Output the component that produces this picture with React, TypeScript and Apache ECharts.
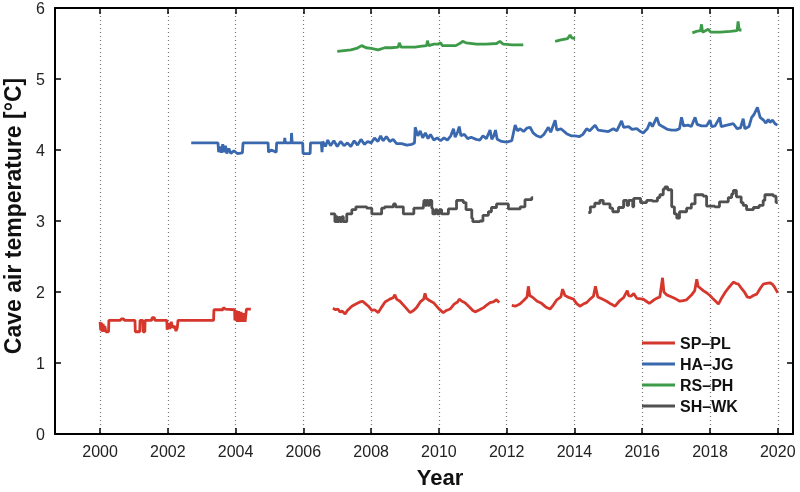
import React, { useEffect, useRef } from "react";
import * as echarts from "echarts";

// ---------- data ----------
const xTicks = [2000, 2002, 2004, 2006, 2008, 2010, 2012, 2014, 2016, 2018, 2020];
const seriesNames = ["SP–PL", "HA–JG", "RS–PH", "SH–WK"];

const spplA: number[][] = [
  [2000.0, 1.58], [2000.02, 1.46], [2000.04, 1.57], [2000.06, 1.44], [2000.09, 1.55], [2000.11, 1.44],
  [2000.14, 1.52], [2000.17, 1.44], [2000.22, 1.44], [2000.25, 1.44], [2000.26, 1.6],
  [2000.6, 1.6], [2000.62, 1.62], [2000.7, 1.62], [2000.72, 1.6],
  [2001.03, 1.6], [2001.04, 1.44], [2001.17, 1.44], [2001.18, 1.6], [2001.26, 1.6], [2001.27, 1.44],
  [2001.32, 1.44], [2001.33, 1.6],
  [2001.52, 1.6], [2001.54, 1.64], [2001.6, 1.64], [2001.62, 1.6],
  [2001.97, 1.6], [2001.98, 1.47], [2002.02, 1.56], [2002.06, 1.48], [2002.1, 1.58], [2002.14, 1.5],
  [2002.2, 1.52], [2002.24, 1.45], [2002.28, 1.5], [2002.3, 1.6],
  [2003.35, 1.6], [2003.36, 1.75], [2003.62, 1.75], [2003.64, 1.78], [2003.7, 1.76], [2003.97, 1.75],
  [2003.98, 1.6], [2004.02, 1.74], [2004.05, 1.58], [2004.09, 1.73], [2004.12, 1.58], [2004.16, 1.72],
  [2004.2, 1.58], [2004.24, 1.7], [2004.28, 1.58], [2004.32, 1.76], [2004.45, 1.76],
];
const spplB: number[][] = [
  [2006.87, 1.77], [2006.95, 1.75], [2007.02, 1.76], [2007.08, 1.72], [2007.15, 1.73], [2007.23, 1.69],
  [2007.3, 1.74], [2007.43, 1.8], [2007.55, 1.83], [2007.67, 1.86], [2007.75, 1.87], [2007.82, 1.84],
  [2007.92, 1.8], [2008.02, 1.74], [2008.1, 1.75], [2008.21, 1.71], [2008.3, 1.78], [2008.41, 1.86],
  [2008.55, 1.9], [2008.65, 1.92], [2008.7, 1.96], [2008.75, 1.9], [2008.85, 1.87], [2009.0, 1.79],
  [2009.15, 1.71], [2009.25, 1.74], [2009.34, 1.78], [2009.45, 1.86], [2009.55, 1.9], [2009.59, 1.98],
  [2009.63, 1.91], [2009.72, 1.88], [2009.84, 1.85], [2009.95, 1.79], [2010.05, 1.74], [2010.13, 1.71],
  [2010.22, 1.74], [2010.33, 1.76], [2010.45, 1.83], [2010.55, 1.86], [2010.6, 1.9], [2010.68, 1.87],
  [2010.77, 1.85], [2010.9, 1.79], [2011.0, 1.74], [2011.07, 1.72], [2011.2, 1.75], [2011.32, 1.78],
  [2011.42, 1.82], [2011.51, 1.85], [2011.6, 1.86], [2011.7, 1.89], [2011.78, 1.85],
];
const spplC: number[][] = [
  [2012.15, 1.81], [2012.25, 1.8], [2012.39, 1.83], [2012.5, 1.88], [2012.6, 1.93], [2012.64, 2.08],
  [2012.68, 1.95], [2012.78, 1.92], [2012.9, 1.87], [2013.03, 1.84], [2013.15, 1.79], [2013.28, 1.76],
  [2013.38, 1.82], [2013.48, 1.89], [2013.6, 1.93], [2013.65, 2.04], [2013.72, 1.95], [2013.85, 1.92],
  [2013.97, 1.9], [2014.06, 1.84], [2014.16, 1.8], [2014.26, 1.83], [2014.36, 1.85], [2014.46, 1.9],
  [2014.56, 1.94], [2014.62, 2.08], [2014.69, 1.93], [2014.82, 1.9], [2014.95, 1.87], [2015.08, 1.83],
  [2015.2, 1.8], [2015.34, 1.88], [2015.45, 1.92], [2015.56, 2.02], [2015.6, 1.95], [2015.67, 1.94],
  [2015.75, 1.98], [2015.84, 1.91], [2016.03, 1.9], [2016.12, 1.87], [2016.21, 1.84], [2016.32, 1.88],
  [2016.42, 1.91], [2016.52, 1.93], [2016.6, 2.2], [2016.64, 2.0], [2016.72, 1.96], [2016.87, 1.93],
  [2017.0, 1.9], [2017.11, 1.87], [2017.21, 1.88], [2017.31, 1.89], [2017.46, 1.96], [2017.55, 2.02],
  [2017.61, 2.18], [2017.65, 2.08], [2017.7, 2.06], [2017.8, 2.02], [2017.9, 1.99], [2018.0, 1.95],
  [2018.1, 1.9], [2018.25, 1.83], [2018.35, 1.92], [2018.44, 1.99], [2018.55, 2.06], [2018.69, 2.14],
  [2018.77, 2.12], [2018.84, 2.11], [2018.93, 2.05], [2019.03, 1.99], [2019.1, 1.93], [2019.18, 1.92],
  [2019.28, 1.95], [2019.38, 1.97], [2019.48, 2.05], [2019.57, 2.11], [2019.67, 2.12], [2019.77, 2.13],
  [2019.84, 2.11], [2019.89, 2.08], [2019.95, 2.03], [2020.0, 1.99],
];

const hajg: number[][] = [
  [2002.69, 4.1], [2003.48, 4.1], [2003.5, 3.97], [2003.55, 4.05], [2003.58, 3.96], [2003.62, 4.08],
  [2003.66, 3.97], [2003.7, 4.06], [2003.74, 3.95], [2003.8, 4.02], [2003.86, 3.95], [2003.95, 3.99],
  [2004.05, 3.95], [2004.2, 3.96], [2004.22, 4.1],
  [2004.96, 4.1], [2004.97, 3.97], [2005.05, 4.0], [2005.2, 3.97], [2005.21, 4.1], [2005.44, 4.1],
  [2005.45, 4.17], [2005.47, 4.1], [2005.64, 4.1], [2005.65, 4.24], [2005.67, 4.1],
  [2005.98, 4.1], [2005.99, 3.95], [2006.2, 3.95], [2006.21, 4.1], [2006.53, 4.1], [2006.55, 3.97],
  [2006.57, 4.12], [2006.65, 4.05], [2006.72, 4.14], [2006.8, 4.06], [2006.9, 4.13], [2007.0, 4.05],
  [2007.1, 4.12], [2007.2, 4.06], [2007.3, 4.1], [2007.4, 4.05], [2007.5, 4.13], [2007.6, 4.07],
  [2007.7, 4.15], [2007.8, 4.08], [2007.9, 4.12], [2008.0, 4.1], [2008.1, 4.17], [2008.2, 4.12],
  [2008.28, 4.2], [2008.35, 4.13], [2008.45, 4.19], [2008.55, 4.12], [2008.65, 4.15], [2008.75, 4.09],
  [2008.9, 4.09], [2009.05, 4.07], [2009.2, 4.08], [2009.28, 4.1], [2009.3, 4.32], [2009.38, 4.2],
  [2009.45, 4.27], [2009.52, 4.17], [2009.6, 4.24], [2009.68, 4.16], [2009.75, 4.22], [2009.85, 4.14],
  [2009.95, 4.17], [2010.05, 4.13], [2010.15, 4.17], [2010.25, 4.14], [2010.35, 4.2], [2010.43, 4.3],
  [2010.48, 4.18], [2010.55, 4.25], [2010.6, 4.33], [2010.65, 4.2], [2010.75, 4.22], [2010.85, 4.16],
  [2010.95, 4.18], [2011.1, 4.15], [2011.21, 4.14], [2011.3, 4.2], [2011.4, 4.16], [2011.51, 4.28],
  [2011.56, 4.15], [2011.62, 4.2], [2011.67, 4.28], [2011.72, 4.15], [2011.85, 4.12], [2012.0, 4.11],
  [2012.15, 4.13], [2012.25, 4.35], [2012.32, 4.27], [2012.4, 4.3], [2012.5, 4.26], [2012.6, 4.31],
  [2012.69, 4.32], [2012.78, 4.24], [2012.89, 4.2], [2013.0, 4.18], [2013.1, 4.22], [2013.23, 4.32],
  [2013.3, 4.25], [2013.43, 4.42], [2013.48, 4.28], [2013.6, 4.3], [2013.77, 4.23], [2013.9, 4.2],
  [2014.02, 4.2], [2014.15, 4.19], [2014.25, 4.22], [2014.36, 4.3], [2014.45, 4.27], [2014.55, 4.32],
  [2014.61, 4.35], [2014.7, 4.28], [2014.85, 4.27], [2015.0, 4.26], [2015.15, 4.3], [2015.25, 4.27],
  [2015.39, 4.41], [2015.45, 4.32], [2015.6, 4.33], [2015.7, 4.29], [2015.84, 4.3], [2015.95, 4.26],
  [2016.03, 4.24], [2016.15, 4.3], [2016.23, 4.39], [2016.3, 4.33], [2016.43, 4.46], [2016.5, 4.36],
  [2016.6, 4.33], [2016.75, 4.29], [2016.87, 4.28], [2017.0, 4.28], [2017.1, 4.3], [2017.16, 4.46],
  [2017.22, 4.34], [2017.35, 4.35], [2017.45, 4.33], [2017.56, 4.46], [2017.62, 4.36], [2017.75, 4.34],
  [2017.9, 4.34], [2018.0, 4.42], [2018.05, 4.33], [2018.15, 4.34], [2018.29, 4.46], [2018.33, 4.33],
  [2018.5, 4.35], [2018.69, 4.37], [2018.8, 4.3], [2018.9, 4.31], [2018.98, 4.44], [2019.03, 4.3],
  [2019.15, 4.33], [2019.23, 4.46], [2019.3, 4.5], [2019.4, 4.6], [2019.48, 4.46], [2019.58, 4.42],
  [2019.65, 4.38], [2019.72, 4.43], [2019.77, 4.39], [2019.85, 4.42], [2019.92, 4.37], [2019.99, 4.35],
];

const rsphA: number[][] = [
  [2007.0, 5.39], [2007.2, 5.4], [2007.4, 5.41], [2007.57, 5.43], [2007.72, 5.47], [2007.85, 5.44],
  [2008.0, 5.43], [2008.21, 5.41], [2008.4, 5.44], [2008.6, 5.44], [2008.8, 5.45], [2008.83, 5.51],
  [2008.88, 5.45], [2009.1, 5.45], [2009.3, 5.45], [2009.44, 5.46], [2009.64, 5.47], [2009.66, 5.54],
  [2009.7, 5.47], [2009.85, 5.49], [2009.98, 5.49], [2010.05, 5.51], [2010.1, 5.47], [2010.3, 5.47],
  [2010.5, 5.47], [2010.65, 5.51], [2010.7, 5.53], [2010.8, 5.51], [2011.11, 5.49], [2011.4, 5.49],
  [2011.7, 5.5], [2011.8, 5.53], [2011.9, 5.49], [2012.2, 5.48], [2012.49, 5.48],
];
const rsphB: number[][] = [
  [2013.43, 5.53], [2013.6, 5.55], [2013.8, 5.57], [2013.87, 5.62], [2013.92, 5.58], [2014.02, 5.57],
];
const rsphC: number[][] = [
  [2017.48, 5.65], [2017.6, 5.67], [2017.72, 5.68], [2017.75, 5.77], [2017.78, 5.66], [2017.95, 5.7],
  [2018.02, 5.66], [2018.3, 5.66], [2018.6, 5.67], [2018.8, 5.68], [2018.83, 5.81], [2018.86, 5.69],
  [2018.93, 5.69],
];

const shwkA: number[][] = [
  [2006.79, 3.1], [2006.93, 2.99], [2006.97, 3.06], [2007.0, 2.99], [2007.05, 3.05], [2007.09, 2.99],
  [2007.14, 3.06], [2007.18, 2.99], [2007.28, 3.1], [2007.43, 3.16], [2007.55, 3.2], [2007.87, 3.18],
  [2008.02, 3.1], [2008.31, 3.18], [2008.4, 3.2], [2008.66, 3.24], [2008.72, 3.2], [2008.95, 3.1],
  [2009.26, 3.18], [2009.54, 3.2], [2009.56, 3.29], [2009.6, 3.22], [2009.64, 3.29], [2009.68, 3.22],
  [2009.72, 3.29], [2009.79, 3.18], [2009.82, 3.1], [2009.9, 3.16], [2009.95, 3.1], [2010.02, 3.16],
  [2010.08, 3.1], [2010.28, 3.17], [2010.52, 3.29], [2010.72, 3.26], [2010.8, 3.16], [2010.97, 3.04],
  [2011.0, 2.99], [2011.21, 3.0], [2011.3, 3.08], [2011.46, 3.13], [2011.55, 3.19], [2011.7, 3.24],
  [2012.05, 3.17], [2012.29, 3.17], [2012.4, 3.2], [2012.54, 3.3], [2012.74, 3.33], [2012.78, 3.33],
];
const shwkB: number[][] = [
  [2014.41, 3.12], [2014.47, 3.2], [2014.6, 3.25], [2014.75, 3.29], [2014.85, 3.24], [2015.05, 3.18],
  [2015.13, 3.13], [2015.3, 3.19], [2015.45, 3.29], [2015.55, 3.22], [2015.6, 3.29], [2015.72, 3.2],
  [2015.75, 3.32], [2015.95, 3.26], [2016.13, 3.29], [2016.3, 3.28], [2016.45, 3.33], [2016.52, 3.37],
  [2016.62, 3.45], [2016.67, 3.48], [2016.75, 3.44], [2016.87, 3.2], [2016.95, 3.1], [2017.02, 3.04],
  [2017.1, 3.13], [2017.31, 3.18], [2017.45, 3.24], [2017.56, 3.37], [2017.8, 3.35], [2017.9, 3.21],
  [2018.14, 3.2], [2018.28, 3.27], [2018.54, 3.33], [2018.64, 3.38], [2018.69, 3.43], [2018.78, 3.34],
  [2018.92, 3.26], [2018.98, 3.22], [2019.08, 3.16], [2019.28, 3.19], [2019.45, 3.22], [2019.57, 3.29],
  [2019.62, 3.37], [2019.87, 3.35], [2019.95, 3.26], [2020.0, 3.26],
];

const colors = { sppl: "#d6372c", hajg: "#3a68ae", rsph: "#3d9a48", shwk: "#505050" };

const FONT = '"Liberation Sans", Arial, Helvetica, sans-serif';

function seg(name: string, color: string, data: number[][], step?: string) {
  return {
    type: "line",
    name,
    data,
    step: step || false,
    symbol: "none",
    showSymbol: false,
    lineStyle: { color, width: 2.8 },
    itemStyle: { color },
    emphasis: { disabled: true },
    animation: false,
  };
}

export default function App() {
  const ref = useRef<HTMLDivElement>(null);
  useEffect(() => {
    const chart = echarts.init(ref.current!, null, { renderer: "svg" });
    const xMin = 1998.67;
    const xMax = 2020.45;
    const option: any = {
      animation: false,
      grid: { left: 55, right: 7, top: 5, bottom: 58, containLabel: false },
      xAxis: [
        {
          type: "value",
          min: xMin,
          max: xMax,
          axisLine: { show: true, onZero: false, lineStyle: { color: "#000", width: 2 } },
          axisTick: { show: true, inside: true, length: 6, customValues: xTicks, lineStyle: { color: "#000", width: 1.5 } },
          axisLabel: { show: true, customValues: xTicks, margin: 9, color: "#222", fontSize: 16, fontFamily: FONT, formatter: (v: number) => String(Math.round(v)) },
          splitLine: { show: true, lineStyle: { color: "#777", width: 1.2, type: [1, 3] } },
        },
        {
          type: "value",
          position: "top",
          min: xMin,
          max: xMax,
          axisLine: { show: true, onZero: false, lineStyle: { color: "#000", width: 2 } },
          axisTick: { show: true, inside: true, length: 6, customValues: xTicks, lineStyle: { color: "#000", width: 1.5 } },
          axisLabel: { show: false },
          splitLine: { show: false },
        },
      ],
      yAxis: [
        {
          type: "value",
          min: 0,
          max: 6,
          interval: 1,
          axisLine: { show: true, onZero: false, lineStyle: { color: "#000", width: 2 } },
          axisTick: { show: true, inside: true, length: 6, lineStyle: { color: "#000", width: 1.5 } },
          axisLabel: { show: true, margin: 10, color: "#222", fontSize: 16, fontFamily: FONT },
          splitLine: { show: false },
        },
        {
          type: "value",
          position: "right",
          min: 0,
          max: 6,
          interval: 1,
          axisLine: { show: true, onZero: false, lineStyle: { color: "#000", width: 2 } },
          axisTick: { show: true, inside: true, length: 6, lineStyle: { color: "#000", width: 1.5 } },
          axisLabel: { show: false },
          splitLine: { show: false },
        },
      ],
      legend: {
        data: seriesNames,
        orient: "vertical",
        left: 637,
        top: 330,
        icon: "rect",
        itemWidth: 33,
        itemHeight: 3,
        itemGap: 5,
        selectedMode: false,
        textStyle: { color: "#111", fontSize: 16, fontWeight: "bold", fontFamily: FONT, lineHeight: 16 },
      },
      graphic: [
        {
          type: "text",
          x: 13,
          y: 216,
          rotation: Math.PI / 2,
          style: {
            text: "Cave air temperature [°C]",
            font: `bold 23px ${FONT}`,
            fill: "#111",
            textAlign: "center",
            textVerticalAlign: "middle",
            align: "center",
            verticalAlign: "middle",
          },
        },
        {
          type: "text",
          x: 440,
          y: 477,
          style: {
            text: "Year",
            font: `bold 22px ${FONT}`,
            fill: "#111",
            textAlign: "center",
            textVerticalAlign: "middle",
            align: "center",
            verticalAlign: "middle",
          },
        },
      ],
      series: [
        seg(seriesNames[1], colors.hajg, hajg),
        seg(seriesNames[2], colors.rsph, rsphA),
        seg(seriesNames[2], colors.rsph, rsphB),
        seg(seriesNames[2], colors.rsph, rsphC),
        seg(seriesNames[3], colors.shwk, shwkA, "end"),
        seg(seriesNames[3], colors.shwk, shwkB, "end"),
        seg(seriesNames[0], colors.sppl, spplA),
        seg(seriesNames[0], colors.sppl, spplB),
        seg(seriesNames[0], colors.sppl, spplC),
      ],
    };
    chart.setOption(option);
    return () => chart.dispose();
  }, []);
  return <div ref={ref} style={{ position: "fixed", left: 0, top: 0, width: 800, height: 492 }} />;
}
